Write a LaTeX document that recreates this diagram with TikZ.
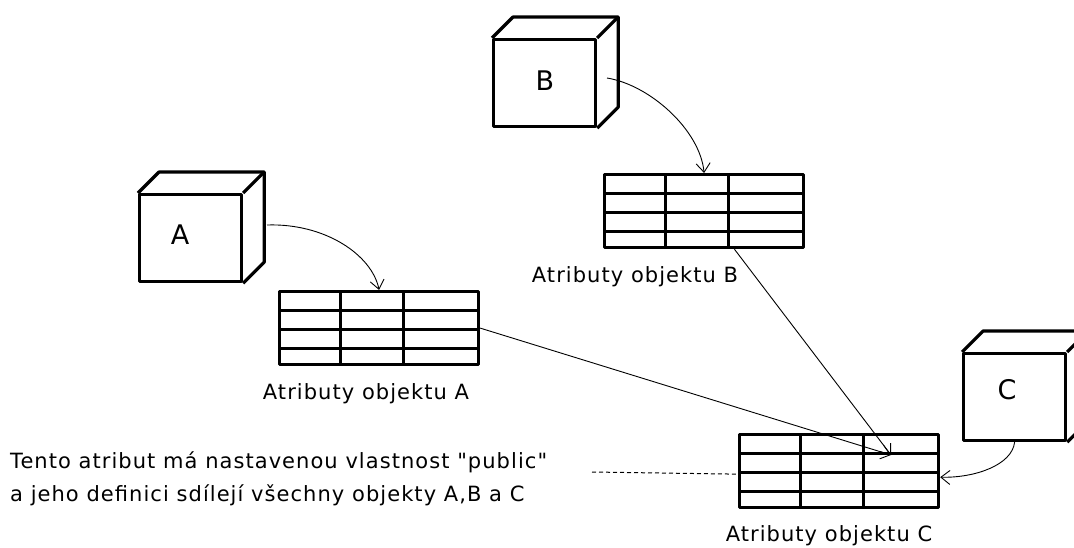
\documentclass[tikz,border=0pt]{standalone}
\usepackage{fontspec}
\newfontfamily\nf[LetterSpace=5]{DejaVu Sans}
\usetikzlibrary{arrows.meta,calc}
\begin{document}
\begin{tikzpicture}[x=1pt,y=-1pt,
  face/.style={draw, line width=3.2pt, line join=round, inner sep=0pt, anchor=north west, minimum width=102pt, minimum height=87pt},
  cubeedge/.style={line width=3.2pt, line join=round},
  tbl/.style={draw, line width=3.2pt, line join=round, inner sep=0pt, anchor=north west, minimum width=199pt, minimum height=73pt},
  gridline/.style={line width=3pt},
  conn/.style={line width=0.9pt, -{Straight Barb[length=9pt,width=14pt,line width=0.9pt]}},
  lbl/.style={font=\nf\fontsize{21}{25}\selectfont, anchor=base, inner sep=0pt},
  big/.style={font=\nf\fontsize{27}{31}\selectfont, anchor=base, inner sep=0pt},
]
\useasboundingbox (0,0) rectangle (1074,547);
\clip (0,0) rectangle (1074,547);

% cubes
\foreach \n/\x/\y in {A/138/193, B/492/38, C/962/352}{
  \node[face] (\n) at (\x,\y) {};
  \draw[cubeedge] (\n.north west) -- ++(21,-21) -- ([shift={(21,-21)}]\n.north east) -- ([shift={(21,-21)}]\n.south east) -- (\n.south east);
  \draw[cubeedge] (\n.north east) -- ++(21,-21);
}
\node[big] (lA) at (180,244) {A};
\node[big] (lB) at (545,90) {B};
\node[big] (lC) at (1007,399) {C};

% tables
\foreach \n/\x/\y in {TA/278/290, TB/603/173, TC/738/433}{
  \node[tbl] (\n) at (\x,\y) {};
  \foreach \f in {0.27,0.52,0.77}{
    \draw[gridline] ($(\n.north west)!\f!(\n.south west)$) -- ($(\n.north east)!\f!(\n.south east)$);
  }
  \foreach \f in {0.31,0.62}{
    \draw[gridline] ($(\n.north west)!\f!(\n.north east)$) -- ($(\n.south west)!\f!(\n.south east)$);
  }
}
\node[lbl] (tA) at (366,399) {Atributy objektu A};
\node[lbl] (tB) at (635,282) {Atributy objektu B};
\node[lbl] (tC) at (829,541) {Atributy objektu C};

% connectors
\coordinate (a0) at (267,225);
\coordinate (b0) at (607,78);
\coordinate (hit) at (891,455);
\draw[conn] (a0) .. controls (325,223) and (372,255) .. (TA.north);
\draw[conn] (b0) .. controls (650,85) and (700,130) .. (TB.north);
\draw[conn] (TA.east) -- (hit);
\draw[conn] ($(TB.south west)!0.65!(TB.south east)$) -- (hit);
\draw[conn] (C.south) .. controls (1012,465) and (975,478) .. ($(TC.north east)!0.58!(TC.south east)$);

% note
\coordinate (d0) at (592,472);
\draw[line width=1pt, dash pattern=on 4pt off 3pt] (d0) -- ($(TC.north west)!0.54!(TC.south west)$);
\node[lbl, anchor=base west] (note) at (10,468) {Tento atribut má nastavenou vlastnost "public"};
\node[lbl, anchor=base west] (note2) at (10,501) {a jeho definici sdílejí všechny objekty A,B a C};
\end{tikzpicture}
\end{document}
